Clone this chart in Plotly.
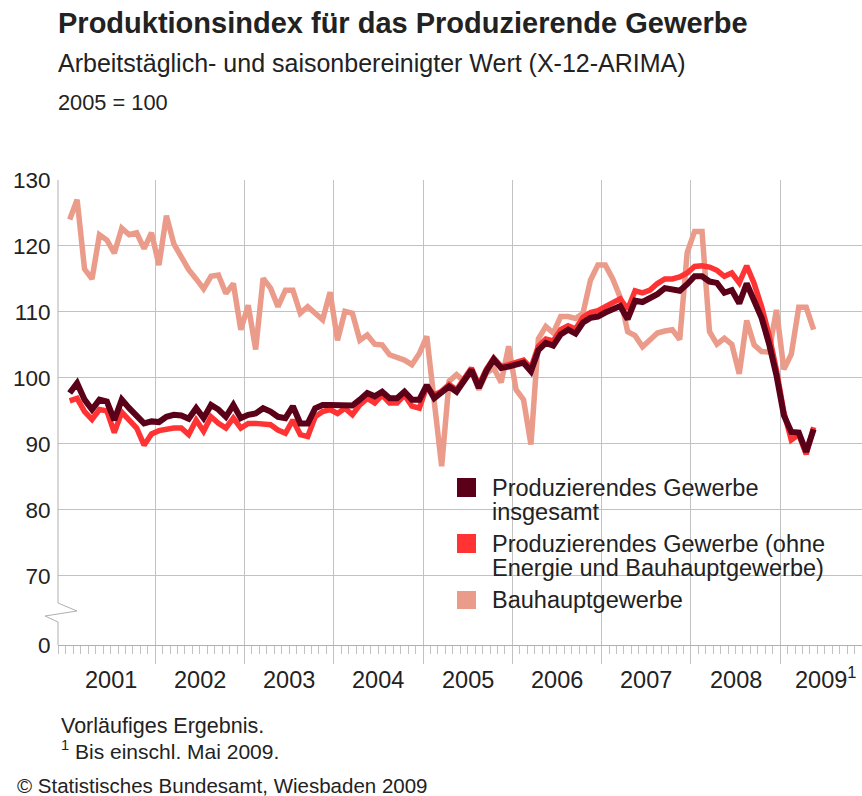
import plotly.graph_objects as go

# ---------------- data (monthly, Jan 2001 .. May 2009) ----------------
years = ["2001", "2002", "2003", "2004", "2005", "2006", "2007", "2008", "2009"]
y_tick_labels = ["0", "70", "80", "90", "100", "110", "120", "130"]

gesamt = [
    97.7, 99.2, 96.7, 95.2, 96.7, 96.4, 93.6, 96.7, 95.4, 94.1, 93.1, 93.4,
    93.3, 94.1, 94.4, 94.3, 93.8, 95.4, 93.9, 95.9, 95.2, 94.1, 95.9, 93.9,
    94.4, 94.6, 95.4, 94.9, 94.1, 93.9, 95.7, 93.1, 93.1, 95.4, 95.9, 95.9,
    95.9, 95.7, 95.8, 96.7, 97.7, 97.2, 97.9, 96.9, 96.9, 97.9, 96.7, 96.7,
    98.9, 96.9, 97.7, 98.7, 97.9, 99.7, 101.2, 98.5, 101.0, 102.8, 101.5, 101.7,
    102.0, 102.3, 101.0, 104.2, 105.3, 104.9, 106.6, 107.3, 106.7, 108.4, 109.1, 109.3,
    109.9, 110.5, 110.9, 108.9, 111.7, 111.5, 112.0, 112.7, 113.6, 113.5, 113.2, 114.2,
    115.4, 115.4, 114.6, 114.4, 112.9, 113.3, 111.3, 114.3, 111.9, 109.1, 105.2, 100.4,
    94.3, 91.8, 91.7, 88.8, 92.2,
]
ohne_energie_bau = [
    96.5, 96.9, 94.9, 93.7, 95.2, 95.0, 91.7, 94.8, 93.6, 92.4, 89.8, 91.5,
    92.0, 92.3, 92.4, 92.4, 91.4, 93.6, 91.9, 94.1, 93.1, 92.4, 93.9, 92.4,
    93.1, 93.1, 93.1, 92.9, 92.1, 91.6, 93.6, 91.4, 91.1, 94.1, 94.9, 95.2,
    94.6, 95.4, 94.4, 95.9, 96.9, 96.2, 97.4, 96.2, 96.2, 97.4, 95.7, 95.4,
    98.7, 97.4, 98.0, 99.0, 98.2, 100.0, 101.5, 98.9, 101.3, 103.0, 101.7, 102.0,
    102.3, 102.7, 101.5, 104.8, 105.9, 105.6, 107.3, 107.9, 107.4, 109.2, 109.9, 110.2,
    110.8, 111.3, 112.0, 110.4, 113.2, 112.9, 113.3, 114.3, 115.0, 115.0, 115.3, 115.9,
    116.9, 117.0, 116.8, 116.3, 115.4, 115.9, 114.4, 117.0, 114.3, 110.8, 106.5, 101.2,
    94.8, 90.6, 91.4, 88.4, 92.5,
]
bauhaupt = [
    124.0, 127.0, 116.5, 115.0, 121.7, 120.9, 118.9, 122.7, 121.7, 122.0, 119.6, 122.0,
    117.1, 124.6, 120.3, 118.2, 116.4, 115.0, 113.5, 115.4, 115.6, 112.8, 114.3, 107.3,
    111.0, 104.3, 115.1, 113.6, 110.8, 113.3, 113.3, 109.8, 110.8, 109.8, 108.8, 113.0,
    105.7, 110.1, 109.8, 105.7, 106.5, 105.1, 105.0, 103.5, 103.2, 102.7, 102.0, 103.7,
    106.3, 96.5, 86.6, 99.5, 100.5, 99.5, 101.0, 98.2, 100.7, 101.5, 99.3, 104.8,
    98.2, 96.7, 89.9, 105.9, 107.8, 106.8, 109.3, 109.3, 109.0, 109.8, 114.8, 117.1,
    117.1, 115.0, 112.2, 107.0, 106.4, 104.7, 105.8, 106.8, 107.1, 107.3, 105.8, 119.0,
    122.2, 122.2, 107.0, 105.1, 106.0, 105.1, 100.6, 108.7, 105.0, 104.0, 103.9, 110.3,
    101.3, 103.6, 110.7, 110.7, 107.3,
]

series_names = [
    "Produzierendes Gewerbe<br>insgesamt",
    "Produzierendes Gewerbe (ohne<br>Energie und Bauhauptgewerbe)",
    "Bauhauptgewerbe",
]

# ---------------- styling ----------------
W, H = 862, 796
ML, MR, MT, MB = 58, 0, 180, 151
PW, PH = W - ML - MR, H - MT - MB
FONT = "Liberation Sans, Arial, sans-serif"
TXT = "#222222"
GRID = "#c2c2c2"
C_DARK = "#5b0019"
C_RED = "#ff3333"
C_SALMON = "#eb9b8a"

ZERO_POS = 59.5          # display position of the "0" tick (broken axis)
X_MIN, X_MAX = -1.57, 106.5
n = len(gesamt)
months = list(range(n))


def xp(px):
    return (px - ML) / PW


def yp(py):
    return (MT + PH - py) / PH


fig = go.Figure()
for vals, col, w in [(bauhaupt, C_SALMON, 5.5), (ohne_energie_bau, C_RED, 5.5), (gesamt, C_DARK, 6)]:
    fig.add_trace(go.Scatter(x=months, y=vals, mode="lines",
                             line=dict(color=col, width=w),
                             showlegend=False, hoverinfo="skip"))

y_tickvals = [ZERO_POS] + [float(v) for v in y_tick_labels[1:]]
year_bounds = [12 * k - 0.5 for k in range(1, len(years))]

fig.update_layout(
    width=W, height=H,
    margin=dict(l=ML, r=MR, t=MT, b=MB, pad=0),
    paper_bgcolor="white", plot_bgcolor="white",
    font=dict(family=FONT, color=TXT),
    xaxis=dict(range=[X_MIN, X_MAX], tickvals=year_bounds, showticklabels=False,
               ticks="outside", ticklen=18, tickcolor=GRID, tickwidth=1,
               showgrid=True, gridcolor=GRID, gridwidth=1,
               showline=True, linecolor="#b0b0b0", linewidth=1,
               zeroline=False, fixedrange=True,
               minor=dict(tick0=-0.5, dtick=1, ticks="outside", ticklen=8,
                          tickcolor=GRID, tickwidth=1, showgrid=False)),
    yaxis=dict(range=[ZERO_POS, 130], tickvals=y_tickvals, ticktext=y_tick_labels,
               tickfont=dict(size=22.5, color=TXT, family=FONT),
               showgrid=True, gridcolor=GRID, gridwidth=1,
               zeroline=False, showline=False, ticks="outside", ticklen=2,
               tickcolor="rgba(0,0,0,0)", fixedrange=True),
)

shapes = []
# left axis with break symbol
shapes.append(dict(type="path", xref="paper", yref="paper",
                   path=f"M {xp(58)},{yp(180)} L {xp(58)},{yp(603)} L {xp(77)},{yp(611)} "
                        f"L {xp(45)},{yp(616)} L {xp(58)},{yp(622)} L {xp(58)},{yp(645)}",
                   line=dict(color="#b0b0b0", width=1), layer="above"))
# white background behind the legend
for x0, x1, y0, y1 in [(443, 773, 465, 522), (443, 838, 522, 588), (443, 770, 588, 623)]:
    shapes.append(dict(type="rect", xref="paper", yref="paper",
                       x0=xp(x0), x1=xp(x1), y0=yp(y1), y1=yp(y0),
                       fillcolor="white", line=dict(width=0), layer="between"))
# legend squares
for col, (y0, y1) in zip([C_DARK, C_RED, C_SALMON], [(478, 497), (534, 553), (591, 609)]):
    shapes.append(dict(type="rect", xref="paper", yref="paper",
                       x0=xp(457), x1=xp(476), y0=yp(y1), y1=yp(y0),
                       fillcolor=col, line=dict(width=0), layer="above"))
fig.update_layout(shapes=shapes)

ann = []


def text(px, py, s, size, bold=False, anchor="left"):
    ann.append(dict(xref="paper", yref="paper", x=xp(px), y=yp(py), text=(f"<b>{s}</b>" if bold else s),
                    showarrow=False, xanchor=anchor, yanchor="middle",
                    font=dict(family=FONT, size=size, color=TXT)))


text(56, 23, "Produktionsindex für das Produzierende Gewerbe", 29, bold=True)
text(56, 63, "Arbeitstäglich- und saisonbereinigter Wert (X-12-ARIMA)", 25)
text(56, 102, "2005 = 100", 21.8)

# legend text
legend_lines = [series_names[0].split("<br>"), series_names[1].split("<br>"), [series_names[2]]]
legend_y = [[488, 512], [544, 568], [600]]
for lines, ys in zip(legend_lines, legend_y):
    for s, yy in zip(lines, ys):
        text(490, yy, s, 23.5)

# year labels
for k, yr in enumerate(years):
    if k < len(years) - 1:
        ann.append(dict(xref="x", yref="paper", x=12 * k + 5.5, y=yp(680), text=yr,
                        showarrow=False, xanchor="center", yanchor="middle",
                        font=dict(family=FONT, size=23.5, color=TXT)))
    else:
        ann.append(dict(xref="x", yref="paper", x=12 * k + 1.2, y=yp(678), text=yr + "<sup>1</sup>",
                        showarrow=False, xanchor="left", yanchor="middle",
                        font=dict(family=FONT, size=23.5, color=TXT)))

text(59, 726, "Vorläufiges Ergebnis.", 21.5)
text(59, 750, "<sup>1</sup> Bis einschl. Mai 2009.", 21)
text(15, 785, "© Statistisches Bundesamt, Wiesbaden 2009", 20.5)
fig.update_layout(annotations=ann)

fig.write_html("out.html", config={"displayModeBar": False},
               post_script="document.body.style.margin='0';document.body.style.overflow='hidden';")
